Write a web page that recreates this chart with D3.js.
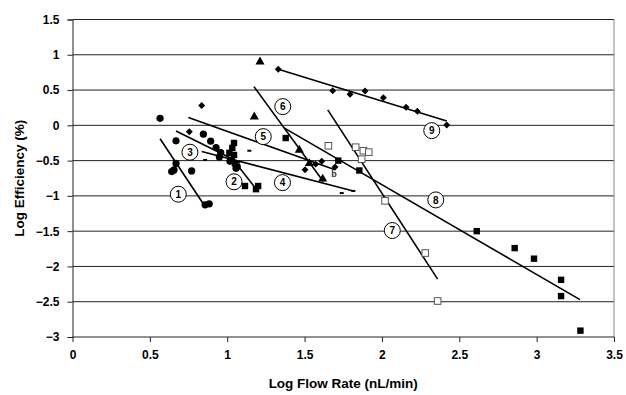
<!DOCTYPE html>
<html><head><meta charset="utf-8">
<script src="https://cdn.jsdelivr.net/npm/d3@7"></script>
<style>body{margin:0;background:#fff}svg{display:block}text{font-family:"Liberation Sans",Arial,sans-serif}</style>
</head><body><svg id="c" width="626" height="395"></svg>
<script>
const xTicks=[0,0.5,1,1.5,2,2.5,3,3.5];
const yTicks=[1.5,1,0.5,0,-0.5,-1,-1.5,-2,-2.5,-3];
const circleX=[0.566,0.846,0.669,0.893,0.928,0.958,0.949,0.669,0.641,0.656,0.77,1.057,1.018,1.065,0.857,0.884];
const circleY=[0.10,-0.126,-0.22,-0.225,-0.315,-0.386,-0.45,-0.54,-0.656,-0.632,-0.646,-0.61,-0.51,-0.585,-1.127,-1.113];
const diamondX=[0.835,0.755,1.503,1.572,1.611,1.697,1.330,1.682,1.794,1.891,2.009,2.156,2.229,2.419];
const diamondY=[0.28,-0.09,-0.63,-0.55,-0.51,-0.59,0.795,0.49,0.44,0.487,0.39,0.256,0.20,0.005];
const squareX=[1.044,1.033,1.014,1.044,1.029,1.05,1.115,1.186,1.2,1.378,1.718,1.854,2.613,2.858,2.983,3.158,3.158,3.283];
const squareY=[-0.25,-0.32,-0.39,-0.42,-0.49,-0.54,-0.86,-0.905,-0.86,-0.18,-0.50,-0.64,-1.50,-1.74,-1.89,-2.19,-2.42,-2.91];
const triangleX=[1.212,1.175,1.466,1.531,1.617];
const triangleY=[0.90,0.12,-0.35,-0.54,-0.76];
const openSquareX=[1.654,1.83,1.88,1.915,1.869,2.02,2.28,2.36];
const openSquareY=[-0.29,-0.31,-0.36,-0.38,-0.48,-1.07,-1.81,-2.49];
const dashX=[1.143,0.857,1.74,1.815];
const dashY=[-0.36,-0.49,-0.96,-0.93];
// fitted lines: [x1,y1,x2,y2]
const fitLines=[
 [0.566,-0.19,0.857,-1.15],
 [1.04,-0.49,1.19,-0.91],
 [0.669,-0.08,1.083,-0.53],
 [0.835,-0.37,1.815,-0.93],
 [0.749,0.11,1.697,-0.63],
 [1.173,0.548,1.621,-0.797],
 [1.65,0.22,2.36,-2.18],
 [1.37,-0.04,3.28,-2.47],
 [1.33,0.795,2.419,0.06]
];
const labelNames=["1","2","3","4","5","6","7","8","9"];
const labelX=[0.684,1.044,0.759,1.357,1.233,1.359,2.067,2.348,2.322];
const labelY=[-0.976,-0.80,-0.381,-0.812,-0.160,0.265,-1.491,-1.057,-0.075];

const svg=d3.select("#c");
const x=d3.scaleLinear().domain([0,3.5]).range([72.5,614]);
const y=d3.scaleLinear().domain([-3,1.5]).range([337,19.5]);

svg.append("g").selectAll("line").data(yTicks.filter(d=>d>-3)).join("line")
 .attr("x1",x(0)).attr("x2",x(3.5)).attr("y1",d=>y(d)).attr("y2",d=>y(d))
 .attr("stroke","#222").attr("stroke-width",1);
svg.append("line").attr("x1",x(3.5)).attr("x2",x(3.5)).attr("y1",y(1.5)).attr("y2",y(-3))
 .attr("stroke","#888").attr("stroke-width",1);

const gx=svg.append("g").attr("transform",`translate(0,${y(-3)})`)
 .call(d3.axisBottom(x).tickValues(xTicks).tickSize(5).tickPadding(8).tickFormat(d3.format("")));
const gy=svg.append("g").attr("transform",`translate(${x(0)},0)`)
 .call(d3.axisLeft(y).tickValues(yTicks).tickSize(5).tickPadding(8).tickFormat(d3.format("")));
[gx,gy].forEach(g=>{
 g.selectAll("path,line").attr("stroke","#222").attr("stroke-width",1);
 g.selectAll("text").attr("font-size",12).attr("font-weight","bold").attr("fill","#000")
  .attr("font-family","'Liberation Sans',Arial,sans-serif");
});
gx.select(".domain").attr("d",`M${x(0)},0H${x(3.5)}`);

svg.append("text").attr("x",(x(0)+x(3.5))/2).attr("y",388).attr("text-anchor","middle")
 .attr("font-size",13.5).attr("font-weight","bold").text("Log Flow Rate (nL/min)");
svg.append("text").attr("transform",`translate(24,${y(-0.75)}) rotate(-90)`).attr("text-anchor","middle")
 .attr("font-size",13.5).attr("font-weight","bold").text("Log Efficiency (%)");

svg.append("g").selectAll("line").data(fitLines).join("line")
 .attr("x1",d=>x(d[0])).attr("y1",d=>y(d[1])).attr("x2",d=>x(d[2])).attr("y2",d=>y(d[3]))
 .attr("stroke","#000").attr("stroke-width",1.6);

const zip=(a,b)=>a.map((v,i)=>[v,b[i]]);
const m=svg.append("g");
m.selectAll(".ci").data(zip(circleX,circleY)).join("circle")
 .attr("cx",d=>x(d[0])).attr("cy",d=>y(d[1])).attr("r",3.6).attr("fill","#000");
m.selectAll(".di").data(zip(diamondX,diamondY)).join("path")
 .attr("d",d3.symbol(d3.symbolSquare,24)).attr("transform",d=>`translate(${x(d[0])},${y(d[1])}) rotate(45)`)
 .attr("fill","#000");
m.selectAll(".sq").data(zip(squareX,squareY)).join("rect")
 .attr("x",d=>x(d[0])-3.2).attr("y",d=>y(d[1])-3.2).attr("width",6.4).attr("height",6.4).attr("fill","#000");
m.selectAll(".tr").data(zip(triangleX,triangleY)).join("path")
 .attr("d",d3.symbol(d3.symbolTriangle,36)).attr("transform",d=>`translate(${x(d[0])},${y(d[1])})`)
 .attr("fill","#000");
m.selectAll(".os").data(zip(openSquareX,openSquareY)).join("rect")
 .attr("x",d=>x(d[0])-3.3).attr("y",d=>y(d[1])-3.3).attr("width",6.6).attr("height",6.6)
 .attr("fill","#fff").attr("stroke","#555").attr("stroke-width",1);
m.selectAll(".da").data(zip(dashX,dashY)).join("rect")
 .attr("x",d=>x(d[0])-2).attr("y",d=>y(d[1])-1).attr("width",4).attr("height",2).attr("fill","#000");

svg.append("text").attr("x",x(1.69)).attr("y",y(-0.73)).attr("text-anchor","middle")
 .attr("font-size",9).attr("font-weight","bold").attr("fill","#333").text("b");

const lg=svg.append("g").selectAll("g").data(labelNames).join("g")
 .attr("transform",(d,i)=>`translate(${x(labelX[i])},${y(labelY[i])})`);
lg.append("circle").attr("r",8).attr("fill","#fff").attr("stroke","#000").attr("stroke-width",1);
lg.append("text").attr("text-anchor","middle").attr("dy","0.36em").attr("font-size",10)
 .attr("font-weight","bold").text(d=>d);
</script></body></html>
